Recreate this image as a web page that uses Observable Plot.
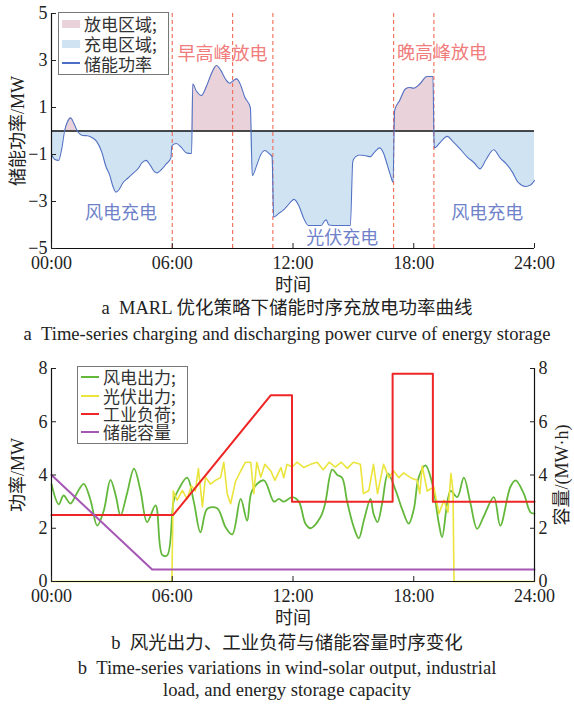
<!DOCTYPE html>
<html><head><meta charset="utf-8">
<script src="https://cdn.jsdelivr.net/npm/d3@7"></script>
<script src="https://cdn.jsdelivr.net/npm/@observablehq/plot@0.6"></script>
<style>
body{margin:0;background:#fff;}
#wrap{position:relative;width:574px;height:705px;overflow:hidden;font-family:"Liberation Serif","Noto Sans CJK SC",serif;color:#222;}
.plot{position:absolute;left:0;}
.cap{position:absolute;left:0;width:574px;text-align:center;font-size:18.5px;line-height:22px;white-space:nowrap;color:#222;}
.en{font-size:18.6px;}
.leg{position:absolute;box-sizing:border-box;border:1px solid #777;background:#fff;font-family:"Noto Sans CJK SC",sans-serif;font-size:17px;color:#333;padding-left:3px;}
.row{display:flex;align-items:center;}
.sw{width:18px;margin-right:4px;flex:none;}
.lt{display:inline-block;white-space:nowrap;}
</style></head><body><div id="wrap">
<div id="top" class="plot" style="top:0"></div>
<div id="bot" class="plot" style="top:350px"></div>
<div class="leg" id="leg1" style="left:58px;top:12px;width:111px;height:63px;padding-top:1px"></div>
<div class="leg" id="leg2" style="left:77px;top:366px;width:111px;height:78px;padding-top:1px"></div>
<div class="cap" style="top:297px">a&nbsp;&nbsp;MARL 优化策略下储能时序充放电功率曲线</div>
<div class="cap en" style="top:323px">a&nbsp;&nbsp;Time-series charging and discharging power curve of energy storage</div>
<div class="cap" style="top:632px">b&nbsp;&nbsp;风光出力、工业负荷与储能容量时序变化</div>
<div class="cap en" style="top:657px">b&nbsp;&nbsp;Time-series variations in wind-solar output, industrial</div>
<div class="cap en" style="top:679px">load, and energy storage capacity</div>
</div>
<script>
// ---------- data ----------
const xTickHours = [0, 6, 12, 18, 24];
const xTickLabels = ["00:00", "06:00", "12:00", "18:00", "24:00"];
const topYTicks = [5, 3, 1, -1, -3, -5];
const topYLabels = ["5", "3", "1", "\u22121", "\u22123", "\u22125"];
const botYTicks = [0, 2, 4, 6, 8];
const botYLabels = ["0", "2", "4", "6", "8"];
const peakLineHours = [6, 9, 11, 17, 19];

// storage power (MW)
const powerHours = [0,0.15,0.35,0.5,0.65,0.8,0.95,1.1,1.28,1.4,1.55,1.8,2.05,2.25,2.5,2.7,2.9,3.05,3.2,3.35,3.55,3.8,4.05,4.3,4.5,4.7,4.9,5.1,5.25,5.45,5.7,5.93,5.98,6.2,6.45,6.7,6.96,7.02,7.2,7.45,7.7,7.95,8.2,8.4,8.65,8.86,9.05,9.2,9.4,9.6,9.88,9.98,10.2,10.4,10.6,10.8,10.96,11.04,11.3,11.5,11.8,12.05,12.3,12.55,12.76,13.0,13.4,13.55,13.65,13.78,14.0,14.5,14.85,14.97,15.1,15.3,15.6,15.84,16.05,16.3,16.5,16.67,16.85,16.97,17.05,17.3,17.6,17.8,18.0,18.3,18.66,18.95,19.02,19.3,19.66,19.95,20.3,20.65,21.0,21.3,21.6,21.97,22.3,22.6,22.9,23.2,23.56,23.8,24.0];
const powerValues = [-1.0,-1.2,-1.25,-0.8,0,0.4,0.56,0.35,0,-0.12,-0.19,-0.2,-0.3,-0.45,-0.9,-1.5,-1.9,-2.35,-2.6,-2.5,-2.2,-2.0,-1.8,-1.6,-1.35,-1.25,-1.45,-1.72,-1.78,-1.65,-1.4,-1.15,-0.62,-0.53,-0.7,-0.93,-0.96,2.0,1.7,1.51,1.9,2.45,2.79,2.6,2.2,2.03,2.15,2.22,1.95,1.45,1.0,-1.9,-1.45,-1.0,-0.83,-0.95,-1.1,-3.67,-3.5,-3.38,-3.1,-2.91,-3.2,-3.75,-4.02,-4.02,-4.02,-3.85,-3.78,-4.0,-4.02,-4.02,-4.02,-1.3,-1.1,-1.02,-1.05,-1.09,-0.9,-0.72,-0.95,-1.4,-1.9,-2.18,0.87,1.3,1.8,1.85,1.82,2.0,2.32,2.32,-0.72,-0.5,-0.23,-0.45,-0.76,-1.1,-1.35,-1.61,-1.2,-0.8,-1.15,-1.4,-1.75,-2.2,-2.36,-2.3,-2.1];

// annotations
const noteText = ["早高峰放电", "晚高峰放电", "风电充电", "光伏充电", "风电充电"];
const noteHours = [8.5, 19.4, 3.45, 14.45, 21.65];
const noteValues = [3.25, 3.3, -3.5, -4.55, -3.5];
const noteColors = ["#f07c7c", "#f07c7c", "#6f82c9", "#6f82c9", "#6f82c9"];

// wind output (MW)
const windHours = [0,0.36,0.6,0.94,1.25,1.6,1.94,2.27,2.6,2.93,3.2,3.43,3.75,4.1,4.42,4.75,5.17,5.5,5.75,6.08,6.33,6.74,7.07,7.4,7.74,8.23,8.65,8.98,9.4,9.72,9.97,10.55,11.05,11.3,11.54,11.96,12.29,12.62,12.87,13.37,13.6,13.95,14.2,14.44,14.69,15.02,15.27,15.52,15.85,16.0,16.2,16.43,16.72,17.1,17.43,17.75,18.0,18.25,18.58,18.92,19.25,19.41,19.83,20.16,20.49,20.8,21.15,21.48,21.98,22.3,22.8,23.06,23.47,23.8,24];
const windValues = [3.65,2.9,3.23,2.93,3.3,3.67,3.05,2.1,2.67,3.82,3.2,2.48,3.3,4.24,3.42,2.23,2.86,1.0,0.98,3.05,3.48,3.9,3.0,1.85,2.73,2.75,2.04,1.77,3.1,2.29,3.42,3.8,3.0,3.1,3.0,3.17,3.0,2.17,2.0,2.42,2.94,4.2,4.0,3.9,3.0,2.04,1.62,2.29,3.1,2.55,2.23,2.94,4.05,3.42,2.7,2.17,2.7,3.92,4.36,3.68,2.17,1.67,3.4,3.17,3.9,3.0,1.98,2.45,3.17,2.1,3.55,3.8,3.3,2.6,2.55];

// PV output (MW)
const pvHours = [0,5.98,6.05,6.24,6.5,6.74,6.95,7.15,7.3,7.5,7.65,7.9,8.15,8.4,8.56,8.73,8.9,9.14,9.4,9.64,9.9,10.05,10.2,10.4,10.6,10.9,11.1,11.4,11.54,11.7,11.96,12.2,12.54,12.87,13.2,13.5,13.8,14.1,14.4,14.7,15.0,15.35,15.5,15.77,16.0,16.2,16.5,16.76,17.0,17.26,17.5,17.84,18.17,18.3,18.42,18.67,19.0,19.25,19.5,19.7,19.85,19.95,20.0,24];
const pvValues = [0,0,3.4,3.05,3.42,3.1,3.6,3.4,4.24,2.8,3.92,3.66,3.8,3.9,4.48,3.3,2.92,3.75,4.15,4.48,4.48,3.3,4.48,3.92,4.4,4.15,3.8,4.28,3.9,4.4,4.3,4.48,4.28,4.4,4.48,4.2,4.48,4.3,4.48,4.25,4.48,4.4,3.3,3.42,4.4,3.3,4.4,3.9,4.15,3.9,4.08,3.9,3.8,3.3,4.34,3.4,3.55,2.55,3.05,2.6,4.06,3.4,0,0];

// industrial load (MW)
const loadHours = [0, 6.05, 10.9, 11.95, 11.95, 16.95, 16.95, 18.95, 18.95, 24];
const loadValues = [2.5, 2.5, 7.0, 7.0, 3.0, 3.0, 7.8, 7.8, 3.0, 3.0];

// storage capacity (MW·h)
const capHours = [0, 5.0, 24];
const capValues = [4.0, 0.45, 0.45];

// ---------- build tables ----------
const zip = (hs, vs) => hs.map((h, i) => ({h, v: vs[i]}));
const power = zip(powerHours, powerValues);
const notes = noteText.map((t, i) => ({t, h: noteHours[i], v: noteValues[i], c: noteColors[i]}));
const wind = zip(windHours, windValues);
const pv = zip(pvHours, pvValues);
const load = zip(loadHours, loadValues);
const cap = zip(capHours, capValues);

const serif = '"Liberation Serif","Noto Sans CJK SC",serif';
const xFmt = d => xTickLabels[xTickHours.indexOf(d)];

const topPlot = Plot.plot({
  width: 574, height: 296,
  marginLeft: 51, marginRight: 40, marginTop: 13, marginBottom: 48,
  style: {fontFamily: serif, fontSize: "18px", color: "#222", background: "transparent", overflow: "visible"},
  x: {domain: [0, 24]},
  y: {domain: [-5, 5]},
  marks: [
    Plot.areaY(power, {x: "h", y1: 0, y2: d => Math.max(0, d.v), fill: "#ead2db", curve: "monotone-x"}),
    Plot.areaY(power, {x: "h", y1: 0, y2: d => Math.min(0, d.v), fill: "#cfe3f3", curve: "monotone-x"}),
    Plot.ruleY([0], {stroke: "#111", strokeWidth: 1.3}),
    Plot.ruleX(peakLineHours, {stroke: "#f26a55", strokeDasharray: "4,3", strokeWidth: 1.1}),
    Plot.lineY(power, {x: "h", y: "v", stroke: "#5272c4", strokeWidth: 1.1, curve: "monotone-x"}),
    Plot.text(notes, {x: "h", y: "v", text: "t", fill: "c", fontSize: 18, fontFamily: "Noto Sans CJK SC"}),
    Plot.ruleX([0], {stroke: "#111", strokeWidth: 1.2}),
    Plot.ruleY([-5], {stroke: "#111", strokeWidth: 1.2}),
    Plot.axisX({ticks: xTickHours, tickFormat: xFmt, tickSize: -5, tickPadding: 13, fontSize: 18,
      label: "时间", labelAnchor: "center", labelOffset: 42, labelArrow: "none"}),
    Plot.axisY({ticks: topYTicks, tickFormat: d => topYLabels[topYTicks.indexOf(d)], tickSize: -5, tickPadding: 9, fontSize: 18,
      label: "储能功率/MW", labelAnchor: "center", labelOffset: 40, labelArrow: "none"})
  ]
});
document.getElementById("top").append(topPlot);

const botPlot = Plot.plot({
  width: 574, height: 280,
  marginLeft: 51, marginRight: 40, marginTop: 18, marginBottom: 49,
  style: {fontFamily: serif, fontSize: "18px", color: "#222", background: "transparent", overflow: "visible"},
  x: {domain: [0, 24]},
  y: {domain: [0, 8]},
  marks: [
    Plot.lineY(wind, {x: "h", y: "v", stroke: "#63b83b", strokeWidth: 1.8, curve: "catmull-rom"}),
    Plot.lineY(pv, {x: "h", y: "v", stroke: "#ebe43c", strokeWidth: 1.6}),
    Plot.lineY(load, {x: "h", y: "v", stroke: "#ee2626", strokeWidth: 2}),
    Plot.lineY(cap, {x: "h", y: "v", stroke: "#a457b3", strokeWidth: 2}),
    Plot.ruleX([0, 24], {stroke: "#111", strokeWidth: 1.2}),
    Plot.ruleY([0], {stroke: "#111", strokeWidth: 1.2}),
    Plot.axisX({ticks: xTickHours, tickFormat: xFmt, tickSize: -5, tickPadding: 13, fontSize: 18,
      label: "时间", labelAnchor: "center", labelOffset: 42, labelArrow: "none"}),
    Plot.axisY({ticks: botYTicks, tickFormat: d => botYLabels[botYTicks.indexOf(d)], tickSize: -5, tickPadding: 9, fontSize: 18,
      label: "功率/MW", labelAnchor: "center", labelOffset: 40, labelArrow: "none"}),
    Plot.axisY({anchor: "right", ticks: botYTicks, tickFormat: d => botYLabels[botYTicks.indexOf(d)], tickSize: -5, tickPadding: 9, fontSize: 18,
      label: "容量/(MW·h)", labelAnchor: "center", labelOffset: 33, labelArrow: "none"})
  ]
});
document.getElementById("bot").append(botPlot);

// ---------- legends ----------
const leg1Items = [
  {label: "放电区域;", kind: "rect", color: "#ead2db"},
  {label: "充电区域;", kind: "rect", color: "#cfe3f3"},
  {label: "储能功率", kind: "line", color: "#4d6ec6"}
];
const leg2Items = [
  {label: "风电出力;", color: "#63b83b"},
  {label: "光伏出力;", color: "#ebe43c"},
  {label: "工业负荷;", color: "#ee2626"},
  {label: "储能容量", color: "#a457b3"}
];
function addRow(box, it, rowH, swH) {
  const r = document.createElement("div"); r.className = "row"; r.style.height = rowH + "px";
  const s = document.createElement("span"); s.className = "sw"; s.style.height = swH + "px"; s.style.background = it.color;
  const t = document.createElement("span"); t.className = "lt"; t.textContent = it.label;
  t.style.height = (rowH - 0.5) + "px"; t.style.lineHeight = (rowH - 0.5) + "px";
  r.append(s, t); box.append(r);
}
const leg1 = document.getElementById("leg1");
leg1Items.forEach(it => addRow(leg1, it, 19.8, it.kind === "rect" ? 8 : 2));
const leg2 = document.getElementById("leg2");
leg2Items.forEach(it => addRow(leg2, it, 18.4, 2));
</script>
</body></html>
